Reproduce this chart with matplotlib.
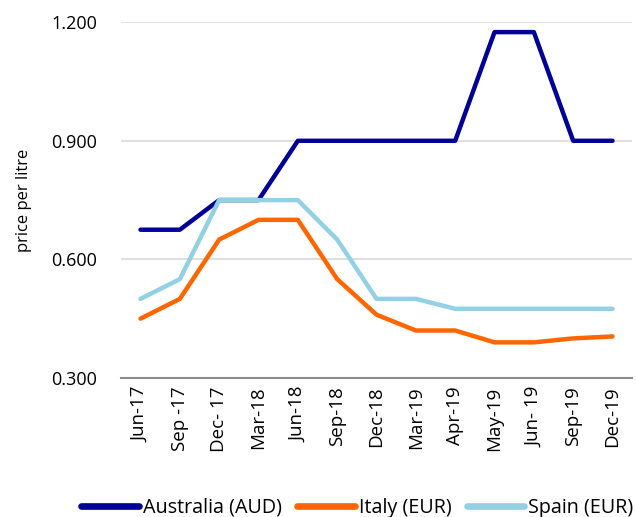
import matplotlib
matplotlib.use('Agg')
import matplotlib.pyplot as plt

plt.rcParams['font.family'] = ['Open Sans', 'DejaVu Sans']

months = ['Jun-17', 'Sep -17', 'Dec- 17', 'Mar-18', 'Jun-18', 'Sep-18', 'Dec-18',
          'Mar-19', 'Apr-19', 'May-19', 'Jun- 19', 'Sep-19', 'Dec-19']
australia = [0.675, 0.675, 0.75, 0.75, 0.90, 0.90, 0.90, 0.90, 0.90, 1.175, 1.175, 0.90, 0.90]
italy = [0.45, 0.50, 0.65, 0.70, 0.70, 0.55, 0.46, 0.42, 0.42, 0.39, 0.39, 0.40, 0.405]
spain = [0.50, 0.55, 0.75, 0.75, 0.75, 0.65, 0.50, 0.50, 0.475, 0.475, 0.475, 0.475, 0.475]
y_ticks = [0.3, 0.6, 0.9, 1.2]

fig = plt.figure(figsize=(6.36, 5.17), dpi=100)
ax = fig.add_axes([0.190, 0.269, 0.804, 0.688])

x = range(len(months))
ax.plot(x, australia, color='#000099', lw=3.2, solid_capstyle='round', label='Australia (AUD)')
ax.plot(x, italy, color='#ff6600', lw=3.2, solid_capstyle='round', label='Italy (EUR)')
ax.plot(x, spain, color='#92d0e3', lw=3.2, solid_capstyle='round', label='Spain (EUR)')

ax.set_xlim(-0.5, len(months) - 0.5)
ax.set_ylim(0.3, 1.2)
ax.set_yticks(y_ticks)
ax.set_yticklabels([f'{v:.3f}' for v in y_ticks])
ax.set_xticks(list(x))
ax.set_xticklabels(months, rotation=90)
ax.tick_params(axis='y', length=0, pad=17, labelsize=13, colors='#000000')
ax.tick_params(axis='x', length=0, pad=6, labelsize=13.5)
ax.grid(axis='y', color='#d9d9d9', lw=1.2)
ax.set_axisbelow(True)
for side in ['top', 'right', 'left']:
    ax.spines[side].set_visible(False)
ax.spines['bottom'].set_color('#8c8c8c')
ax.spines['bottom'].set_linewidth(1.5)
ax.set_ylabel('price per litre', fontsize=12, labelpad=14)

leg = fig.legend(loc='center', bbox_to_anchor=(0.562, 0.018), ncol=3, frameon=False,
                 fontsize=14.2, handlelength=2.9, handletextpad=0.2, columnspacing=0.8)
for line in leg.get_lines():
    line.set_linewidth(4.8)

fig.savefig('out.png', dpi=100)
